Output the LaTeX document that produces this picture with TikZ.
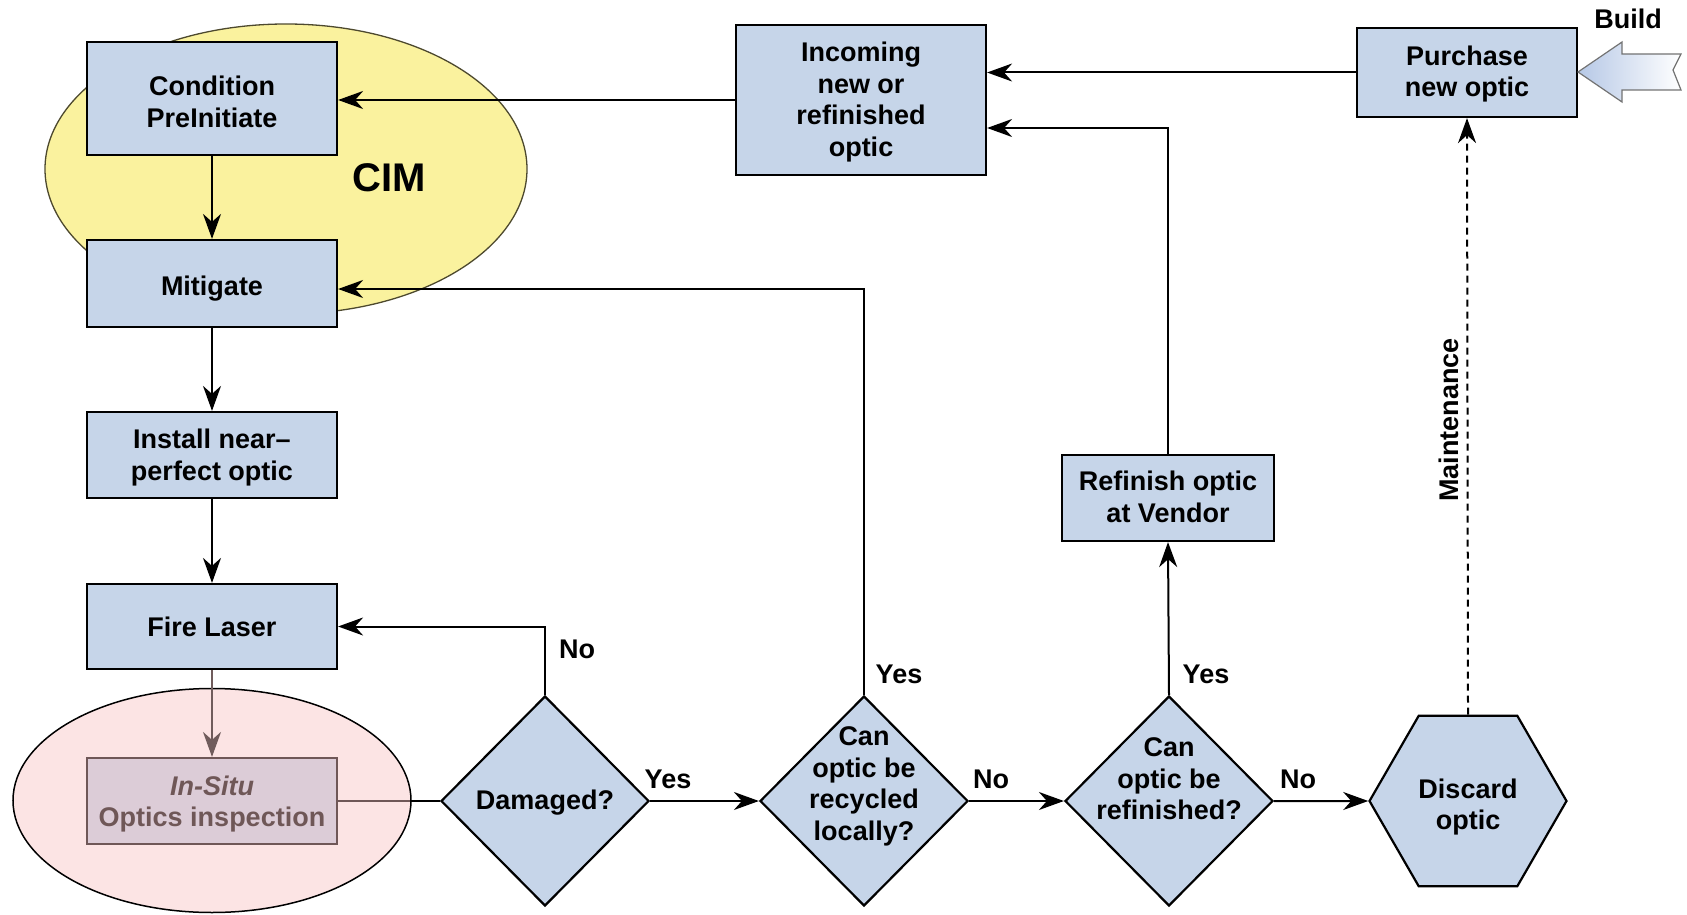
\documentclass[tikz,border=0pt]{standalone}
\usepackage{fontspec}
\setmainfont{Liberation Sans}
\usetikzlibrary{shapes.geometric,arrows.meta}
\definecolor{boxblue}{RGB}{198,213,233}
\definecolor{arrowblue}{RGB}{182,200,230}
\definecolor{cimyellow}{RGB}{250,242,158}
\definecolor{pinkov}{RGB}{248,195,195}
\definecolor{greytext}{RGB}{112,92,92}
\newcommand{\lowr}[2]{\raisebox{-#1}[\height][\depth]{\begin{tabular}{@{}c@{}}#2\end{tabular}}}
\begin{document}
\begin{tikzpicture}[x=1pt,y=-1pt,
  font=\fontsize{27}{31.5}\selectfont\bfseries,
  box/.style={draw=black, line width=2.2pt, fill=boxblue, rectangle, inner sep=0pt, align=center},
  dec/.style={draw=black, line width=2.2pt, fill=boxblue, diamond, inner sep=0pt, minimum width=208pt, minimum height=210pt},
  hexa/.style={draw=black, line width=2.2pt, fill=boxblue, regular polygon, regular polygon sides=6, minimum size=197pt, inner sep=0pt, align=center},
  conn/.style={line width=2pt, -{Stealth[length=25pt,width=18pt,inset=8pt]}},
  plainline/.style={line width=2pt},
  lab/.style={inner sep=0pt}]
\useasboundingbox (0,0) rectangle (1687,915);

% CIM ellipse (behind)
\draw[fill=cimyellow, draw=black!60!olive, line width=1.3pt] (286,169) ellipse [x radius=241, y radius=145];
\node[lab, font=\fontsize{40}{48}\selectfont\bfseries] (cim) at (389,178) {CIM};

% boxes
\node[box, minimum width=250pt, minimum height=113pt] (cond) at (212,98.5) {\lowr{6.5pt}{Condition\\PreInitiate}};
\node[box, minimum width=250pt, minimum height=87pt] (mitig) at (212,283.5) {\lowr{5.5pt}{Mitigate}};
\node[box, minimum width=250pt, minimum height=86pt] (install) at (212,455) {\lowr{3pt}{Install near–\\perfect optic}};
\node[box, minimum width=250pt, minimum height=85pt] (fire) at (212,626.5) {\lowr{4pt}{Fire Laser}};
\node[box, minimum width=250pt, minimum height=86pt] (insitu) at (212,801) {\lowr{3.5pt}{\textit{In-Situ}\\Optics inspection}};
\node[box, minimum width=250pt, minimum height=150pt] (incoming) at (861,100) {\lowr{2.5pt}{Incoming\\new or\\refinished\\optic}};
\node[box, minimum width=220pt, minimum height=89pt] (purchase) at (1467,72.5) {\lowr{2pt}{Purchase\\new optic}};
\node[box, minimum width=212pt, minimum height=86pt] (refin) at (1168,498) {\lowr{2pt}{Refinish optic\\at Vendor}};

% decisions
\node[dec] (dam) at (545,801) {\lowr{2.5pt}{Damaged?}};
\node[dec] (recyc) at (864,801) {\smash{\raisebox{8pt}{\begin{tabular}{@{}c@{}}Can\\optic be\\recycled\\locally?\end{tabular}}}};
\node[dec] (refq) at (1169,801) {\smash{\raisebox{13pt}{\begin{tabular}{@{}c@{}}Can\\optic be\\refinished?\end{tabular}}}};
\node[hexa] (discard) at (1468,801) {\lowr{6.5pt}{Discard\\optic}};

% connectors
\draw[conn] (incoming.west) -- (incoming.west -| cond.east);
\draw[conn] (purchase.west) -- (purchase.west -| incoming.east);
\draw[conn] (refin.north) |- ([yshift=-28pt]incoming.east);
\draw[conn] (recyc.north) |- ([yshift=-5.5pt]mitig.east);
\draw[conn] (dam.north) |- (fire.east);
\draw[conn] (cond.south) -- (mitig.north);
\draw[conn] (mitig.south) -- (install.north);
\draw[conn] (install.south) -- (fire.north);
\draw[plainline] (insitu.east) -- (dam.west);
\draw[conn] (dam.east) -- (recyc.west);
\draw[conn] (recyc.east) -- (refq.west);
\draw[conn] (refq.east) -- (discard.west);
\draw[conn] (refq.north) -- (refin.south);
\draw[conn, dash pattern=on 7pt off 5pt] (discard.north) -- (purchase.south);

% labels
\node[lab] (lno1) at (577,649) {No};
\node[lab] (lyes1) at (668,779) {Yes};
\node[lab] (lyes2) at (899,674) {Yes};
\node[lab] (lno2) at (991,779) {No};
\node[lab] (lyes3) at (1206,674) {Yes};
\node[lab] (lno3) at (1298,779) {No};
\node[lab] (build) at (1628,19) {Build};
\node[lab, rotate=90] (maint) at (1449,420) {Maintenance};

% Build arrow
\draw[left color=arrowblue, right color=white, draw=black!55, line width=1.2pt]
  (1578,72) -- (1622,42) -- (1622,54) -- (1681,54) -- (1673,70) -- (1681,90) -- (1622,90) -- (1622,102) -- cycle;

% In-situ overlay
\draw[fill=pinkov, fill opacity=0.45, line width=1.5pt] (212,800.5) ellipse [x radius=199, y radius=112];
\draw[conn, draw=greytext] (fire.south) -- (insitu.north);
\end{tikzpicture}
\end{document}
